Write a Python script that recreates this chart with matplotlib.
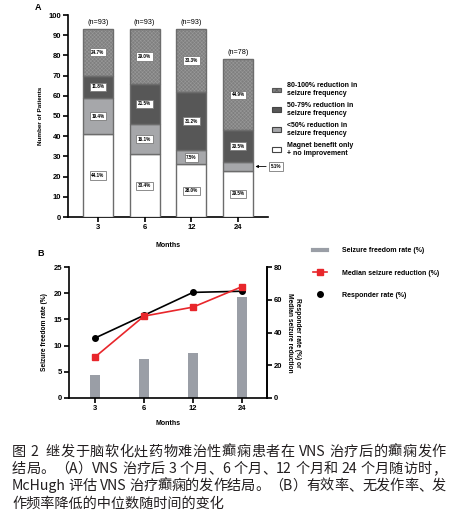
import re
import matplotlib.pyplot as plt
import matplotlib.patches as mpatches
from matplotlib.lines import Line2D
import numpy as np

plt.rcParams['font.family'] = ['Liberation Sans', 'DejaVu Sans']
plt.rcParams['hatch.linewidth'] = 0.4

months = ['3', '6', '12', '24']
n_total = [93, 93, 93, 78]

# Panel A: number of patients per outcome group
magnet_none = [41, 31, 26, 23]
below50 = [18, 15, 7, 4]
red50_79 = [11, 20, 29, 16]
red80_100 = [23, 27, 31, 35]
pct_magnet = ['44.1%', '33.4%', '28.0%', '29.5%']
pct_below50 = ['19.4%', '16.1%', '7.5%', '5.1%']
pct_50_79 = ['11.8%', '21.5%', '31.2%', '20.5%']
pct_80_100 = ['24.7%', '29.0%', '33.3%', '44.9%']

# Panel B
freedom_rate = [4.3, 7.5, 8.6, 19.2]
median_reduction = [25.0, 50.0, 55.5, 68.0]
responder_rate = [36.6, 50.5, 64.5, 65.2]

caption = [
    '图 2  继发于脑软化灶药物难治性癫痫患者在 VNS 治疗后的癫痫发作',
    '结局。（A）VNS 治疗后 3 个月、6 个月、12 个月和 24 个月随访时，',
    'McHugh 评估 VNS 治疗癫痫的发作结局。（B）有效率、无发作率、发',
    '作频率降低的中位数随时间的变化',
]

W, H = 454, 516
fig = plt.figure(figsize=(W / 100, H / 100), dpi=100)


def fbox(l, t, r, b):
    return [l / W, 1 - b / H, (r - l) / W, (b - t) / H]


def style_axis(ax):
    for s in ['left', 'bottom', 'right']:
        ax.spines[s].set_linewidth(1.2)
    ax.spines['top'].set_visible(False)
    ax.tick_params(width=1.2, length=3.5, labelsize=5.5, pad=1.5)
    for lab in ax.get_xticklabels() + ax.get_yticklabels():
        lab.set_fontweight('bold')


# ---------------- Panel A ----------------
axA = fig.add_axes(fbox(68, 15, 268, 217))
x = np.arange(len(months))
w = 0.64
edge = '#6c6c6c'

segments = [
    (magnet_none, 'white', None, pct_magnet, 'Magnet benefit only\n+ no improvement'),
    (below50, '#a6a7aa', None, pct_below50, '<50% reduction in\nseizure frequency'),
    (red50_79, '#575757', None, pct_50_79, '50-79% reduction in\nseizure frequency'),
    (red80_100, '#7f7f7f', 'xxxxxxxxx', pct_80_100, '80-100% reduction in\nseizure frequency'),
]

bottom = np.zeros(len(months))
handles, labels = [], []
lbl_box = dict(boxstyle='square,pad=0.35', fc='white', ec='#7a7a7a', lw=0.6)
for vals, fc, hatch, pcts, lab in segments:
    vals = np.array(vals, dtype=float)
    if hatch:
        axA.bar(x, vals, w, bottom=bottom, color=fc, hatch=hatch,
                edgecolor='#989898', linewidth=0, zorder=2)
        axA.bar(x, vals, w, bottom=bottom, fill=False, edgecolor=edge,
                linewidth=1.0, zorder=3)
        handles.append(mpatches.Patch(facecolor=fc, hatch='xxxxx',
                                      edgecolor='#555555', linewidth=0.8))
    else:
        axA.bar(x, vals, w, bottom=bottom, color=fc, edgecolor=edge,
                linewidth=1.0, zorder=3)
        handles.append(mpatches.Patch(facecolor=fc, edgecolor='#444444', linewidth=0.8))
    labels.append(lab)
    for i in range(len(months)):
        yc = bottom[i] + vals[i] / 2
        if vals[i] < 5:
            axA.annotate(pcts[i], xy=(x[i] + w / 2 + 0.05, yc), xytext=(x[i] + w / 2 + 0.38, yc),
                         fontsize=3.3, fontweight='bold', va='center', ha='left',
                         bbox=lbl_box, annotation_clip=False, zorder=5,
                         arrowprops=dict(arrowstyle='-|>', color='black', lw=0.6,
                                         mutation_scale=4, shrinkA=2, shrinkB=0))
        else:
            axA.text(x[i], yc, pcts[i], fontsize=3.3, fontweight='bold',
                     ha='center', va='center', bbox=lbl_box, zorder=5)
    bottom = bottom + vals

for i in range(len(months)):
    axA.text(x[i], n_total[i] + 1.5, f'(n={n_total[i]})', ha='center', va='bottom',
             fontsize=5.2)

axA.set_xlim(-0.64, 3.64)
axA.set_ylim(0, 100)
axA.set_yticks(range(0, 101, 10))
axA.set_xticks(x)
axA.set_xticklabels(months)
axA.spines['right'].set_visible(False)
style_axis(axA)
axA.set_ylabel('Number of Patients', fontsize=4.6, fontweight='bold', labelpad=4)
axA.set_xlabel('Months', fontsize=5, fontweight='bold', labelpad=8)

fig.legend(handles[::-1], labels[::-1], loc='upper left',
           bbox_to_anchor=(266 / W, 1 - 76 / H), frameon=False,
           prop=dict(size=5, weight='bold'), handlelength=1.2, handleheight=0.6,
           handletextpad=0.9, labelspacing=0.7)

fig.text(35 / W, 1 - 8 / H, 'A', fontsize=6.5, fontweight='bold', va='center')

# ---------------- Panel B ----------------
axB = fig.add_axes(fbox(69, 267, 267, 398))
axB.bar(x, freedom_rate, 0.22, color='#9a9ea6', zorder=2)
axB.set_xlim(-0.53, 3.51)
axB.set_ylim(0, 25)
axB.set_yticks(range(0, 26, 5))
axB.set_xticks(x)
axB.set_xticklabels(months)
style_axis(axB)
axB.set_ylabel('Seizure freedom rate (%)', fontsize=4.8, fontweight='bold', labelpad=4)
axB.set_xlabel('Months', fontsize=5, fontweight='bold', labelpad=6)

axB2 = axB.twinx()
axB2.plot(x, responder_rate, color='black', marker='o', ms=4, lw=1.2, zorder=3)
axB2.plot(x, median_reduction, color='#e8262b', marker='s', ms=4, lw=1.2, zorder=4)
axB2.set_ylim(0, 80)
axB2.set_yticks(range(0, 81, 20))
style_axis(axB2)
axB2.spines['left'].set_visible(False)
axB2.spines['bottom'].set_visible(False)
axB2.set_ylabel('Responder rate (%) or\nMedian seizure reduction', rotation=270,
                fontsize=4.8, fontweight='bold', labelpad=13, linespacing=1.0)

hB = [Line2D([], [], color='#9a9ea6', lw=3),
      Line2D([], [], color='#e8262b', marker='s', ms=4, lw=1.2),
      Line2D([], [], color='black', marker='o', ms=4, lw=0)]
lB = ['Seizure freedom rate (%)', 'Median seizure reduction (%)', 'Responder rate (%)']
fig.legend(hB, lB, loc='upper left', bbox_to_anchor=(307 / W, 1 - 241 / H), frameon=False,
           prop=dict(size=5, weight='bold'), handlelength=2.0, handletextpad=2.1,
           labelspacing=2.2)

fig.text(37 / W, 1 - 253 / H, 'B', fontsize=6.5, fontweight='bold', va='center')

# ---------------- caption (justified lines) ----------------
cap_font = dict(fontsize=10.2, color='#231f20', va='center',
                family=['Noto Sans CJK SC', 'DejaVu Sans'])
cap_y = [452, 469, 486, 504]
x0, x1 = 12, 446
renderer = fig.canvas.get_renderer()
for k, (line, yy) in enumerate(zip(caption, cap_y)):
    if k == len(caption) - 1:
        fig.text(x0 / W, 1 - yy / H, line, **cap_font)
        continue
    # latin words and numbers stay together, everything else is spread
    tokens = re.findall(r'[A-Za-z0-9]+|.', line)
    widths = []
    for tok in tokens:
        t = fig.text(0, 0, tok if tok != ' ' else '\u00a0', **cap_font)
        widths.append(t.get_window_extent(renderer).width)
        t.remove()
    gap = (x1 - x0 - sum(widths)) / (len(tokens) - 1)
    xp = x0
    for tok, tw in zip(tokens, widths):
        if tok != ' ':
            fig.text(xp / W, 1 - yy / H, tok, **cap_font)
        xp += tw + gap

fig.savefig('out.png', dpi=100, facecolor='white')
